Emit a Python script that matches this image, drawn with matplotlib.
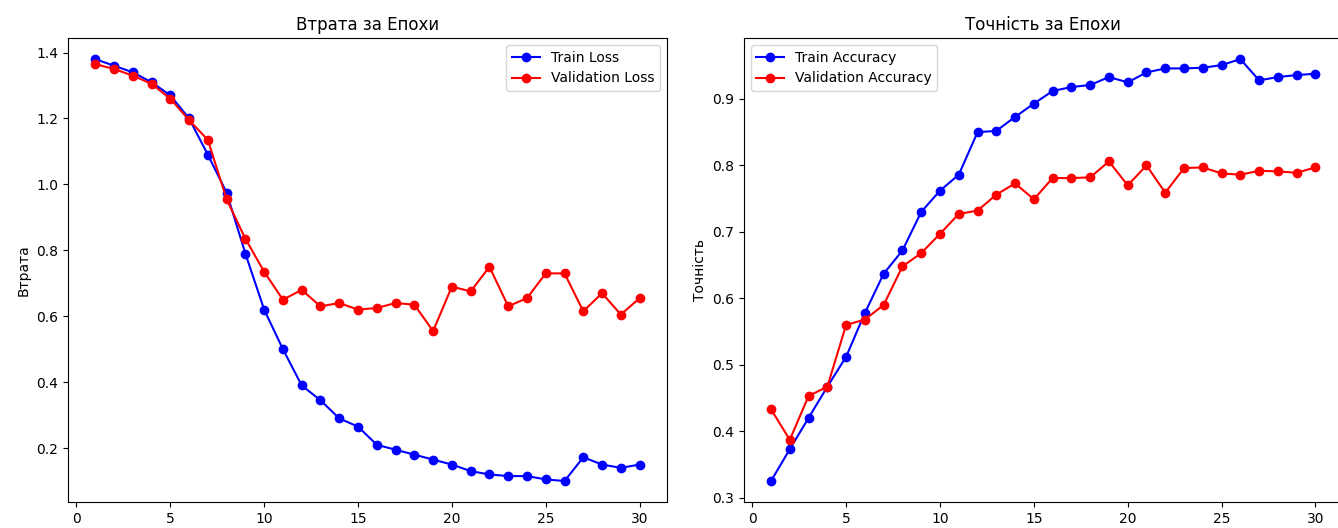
import numpy as np
import matplotlib.pyplot as plt

# Епохи та метрики
epochs = list(range(1, 31))

train_loss = [1.38, 1.36, 1.34, 1.31, 1.27, 1.20, 1.09, 0.975, 0.79, 0.62,
              0.50, 0.39, 0.345, 0.29, 0.265, 0.21, 0.195, 0.18, 0.165, 0.15,
              0.13, 0.12, 0.115, 0.115, 0.105, 0.10, 0.172, 0.15, 0.14, 0.15]
val_loss = [1.365, 1.35, 1.33, 1.305, 1.26, 1.195, 1.135, 0.955, 0.835, 0.735,
            0.65, 0.68, 0.63, 0.64, 0.62, 0.625, 0.64, 0.635, 0.555, 0.69,
            0.675, 0.75, 0.63, 0.655, 0.73, 0.73, 0.615, 0.67, 0.605, 0.655]

train_acc = [0.325, 0.373, 0.42, 0.467, 0.512, 0.578, 0.637, 0.672, 0.73, 0.762,
             0.786, 0.85, 0.852, 0.873, 0.893, 0.912, 0.918, 0.921, 0.933, 0.925,
             0.94, 0.946, 0.946, 0.947, 0.951, 0.96, 0.928, 0.933, 0.936, 0.938]
val_acc = [0.433, 0.387, 0.453, 0.467, 0.56, 0.568, 0.59, 0.648, 0.668, 0.697,
           0.727, 0.732, 0.756, 0.773, 0.749, 0.781, 0.781, 0.782, 0.806, 0.77,
           0.80, 0.759, 0.796, 0.797, 0.788, 0.786, 0.792, 0.791, 0.789, 0.797]

fig, (ax1, ax2) = plt.subplots(1, 2, figsize=(13.38, 5.28), dpi=100)
# праве поле обрізане в оригіналі
fig.subplots_adjust(left=0.0508, right=1.0035, bottom=0.049, top=0.928, wspace=0.1285)

# Втрата
ax1.plot(epochs, train_loss, 'bo-', label='Train Loss')
ax1.plot(epochs, val_loss, 'ro-', label='Validation Loss')
ax1.set_title('Втрата за Епохи')
ax1.set_ylabel('Втрата')
ax1.legend()

# Точність
ax2.plot(epochs, train_acc, 'bo-', label='Train Accuracy')
ax2.plot(epochs, val_acc, 'ro-', label='Validation Accuracy')
ax2.set_title('Точність за Епохи')
ax2.set_ylabel('Точність')
ax2.legend()

plt.savefig('out.png', dpi=100)
plt.close()
